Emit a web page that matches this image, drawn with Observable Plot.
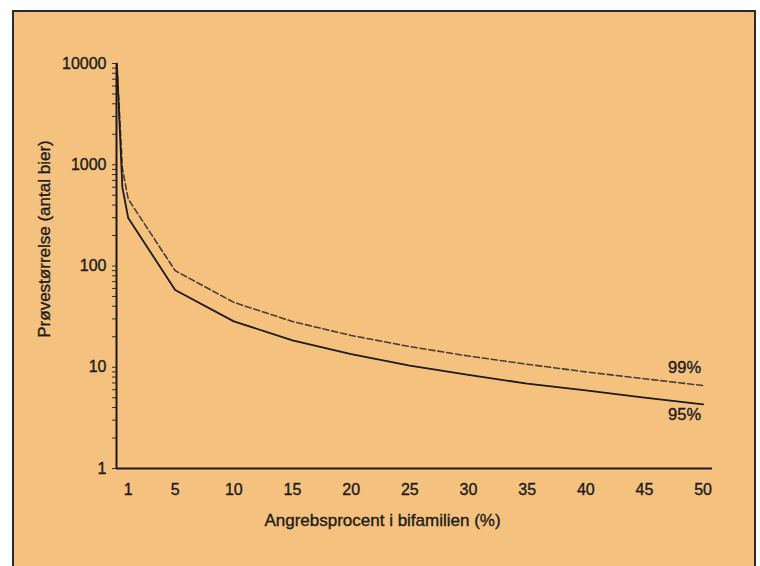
<!DOCTYPE html>
<html>
<head>
<meta charset="utf-8">
<script src="https://cdn.jsdelivr.net/npm/d3@7"></script>
<script src="https://cdn.jsdelivr.net/npm/@observablehq/plot@0.6"></script>
<style>
  html, body { margin: 0; padding: 0; background: #ffffff; width: 760px; height: 566px; overflow: hidden; }
  #frame { position: absolute; left: 12px; top: 10px; width: 740px; height: 600px;
           background: #f4c27e; border: 2px solid #2a2a2a; }
  #chart { position: absolute; left: 0; top: 0; }
  #chart svg text { stroke: #1c1a1a; stroke-width: 0.35px; }
</style>
</head>
<body>
<div id="frame"></div>
<div id="chart"></div>
<script>
// Sample size (number of bees) vs. infestation percentage in the colony
const x95 = [0.03, 0.5, 1, 5, 10, 15, 20, 25, 30, 35, 40, 45, 50];
const n95 = [9985, 598, 298, 58, 28.4, 18.4, 13.5, 10.4, 8.4, 6.9, 5.9, 5.0, 4.3];
const x99 = [0.05, 0.5, 1, 5, 10, 15, 20, 25, 30, 35, 40, 45, 50];
const n99 = [9208, 919, 458, 90, 43.7, 28.3, 20.6, 16.0, 12.9, 10.7, 9.0, 7.7, 6.6];
const seriesLabels = ["95%", "99%"];
const xTicks = [1, 5, 10, 15, 20, 25, 30, 35, 40, 45, 50];
const yMajor = [1, 10, 100, 1000, 10000];
const xTitle = "Angrebsprocent i bifamilien (%)";
const yTitle = "Prøvestørrelse (antal bier)";

const yTicks = [];
for (let e = 0; e < 4; e++) for (let m = 1; m < 10; m++) yTicks.push(m * Math.pow(10, e));
yTicks.push(10000);

const d95 = x95.map((x, i) => ({x, y: n95[i]}));
const d99 = x99.map((x, i) => ({x, y: n99[i]}));
const ends = [
  {x: x95[x95.length - 1], y: n95[n95.length - 1], label: seriesLabels[0]},
  {x: x99[x99.length - 1], y: n99[n99.length - 1], label: seriesLabels[1]}
];

const ink = "#1c1a1a";
const chart = Plot.plot({
  width: 760,
  height: 566,
  marginLeft: 116,
  marginRight: 48,
  marginTop: 63,
  marginBottom: 98,
  style: {background: "transparent", fontFamily: "'Liberation Sans', Arial, sans-serif", color: ink},
  x: {type: "linear", domain: [0, 50.8]},
  y: {type: "log", domain: [1, 10000]},
  marks: [
    Plot.axisY({ticks: yTicks, tickSize: 4, tickPadding: 6, fontSize: 16, label: null,
                tickFormat: d => yMajor.includes(d) ? String(d) : "", stroke: "#3a2a2a"}),
    Plot.axisX({ticks: xTicks, tickSize: 0, tickPadding: 15, fontSize: 16, label: null}),
    Plot.ruleX([0], {stroke: ink, strokeWidth: 2}),
    Plot.ruleY([1], {stroke: ink, strokeWidth: 2}),
    Plot.line(d99, {x: "x", y: "y", stroke: "#4a3c36", strokeWidth: 1.6, strokeDasharray: "6,3"}),
    Plot.line(d95, {x: "x", y: "y", stroke: ink, strokeWidth: 1.8}),
    Plot.text([ends[1]], {x: "x", y: "y", text: "label", textAnchor: "end", dx: -2, dy: -18, fontSize: 16.5, fill: ink}),
    Plot.text([ends[0]], {x: "x", y: "y", text: "label", textAnchor: "end", dx: -2, dy: 10, fontSize: 16.5, fill: ink}),
    Plot.text([xTitle], {frameAnchor: "bottom", textAnchor: "middle", lineAnchor: "middle", dx: -32, dy: 52, fontSize: 17, fill: ink}),
    Plot.text([yTitle], {frameAnchor: "left", textAnchor: "middle", lineAnchor: "middle", rotate: -90, dx: -72, dy: -27, fontSize: 17, fill: ink})
  ]
});
document.getElementById("chart").appendChild(chart);
</script>
</body>
</html>
